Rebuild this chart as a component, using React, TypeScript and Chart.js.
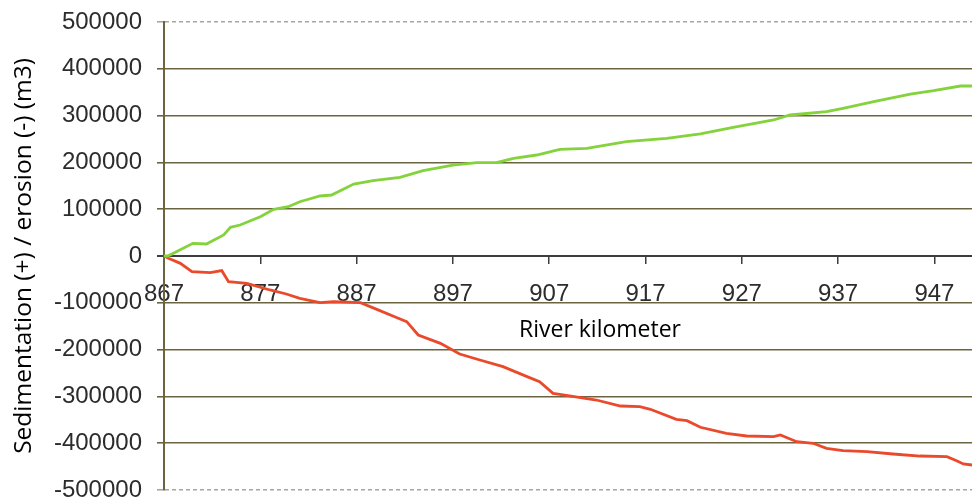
import React, { useEffect, useRef } from 'react';
import { Chart, registerables } from 'chart.js';

Chart.register(...registerables);

// River kilometre tick positions along the zero line
const X_TICKS = [867, 877, 887, 897, 907, 917, 927, 937, 947];
const X_MIN = 867;
const X_MAX = 950.9;

// Volume axis ticks (m3)
const Y_TICKS = [-500000, -400000, -300000, -200000, -100000, 0, 100000, 200000, 300000, 400000, 500000];

// Cumulative sedimentation (+)
const SED_KM = [867, 867.4, 870.0, 871.4, 873.2, 873.9, 874.9, 877.0, 878.4, 879.9, 881.1, 883.2, 884.4, 886.7, 888.7, 891.5, 893.9, 897.0, 899.5, 901.5, 903.3, 905.7, 908.1, 910.9, 915.0, 919.2, 922.7, 926.1, 930.3, 932.0, 935.8, 937.5, 940.7, 944.5, 946.9, 949.7, 950.9];
const SED_M3 = [0, 0, 27100, 25600, 44900, 61300, 66200, 84000, 99700, 105300, 116000, 128200, 130300, 153800, 160900, 168100, 182300, 194400, 199400, 199400, 208700, 215800, 228000, 230100, 244200, 251500, 260700, 275000, 290600, 301300, 308300, 315500, 329700, 346100, 353200, 363200, 363200];

// Cumulative erosion (-)
const ERO_KM = [867, 867.4, 868.7, 869.9, 871.8, 873.0, 873.7, 875.6, 878.0, 879.7, 881.1, 883.2, 884.6, 887.4, 889.1, 891.2, 892.2, 893.4, 895.7, 897.7, 899.8, 902.2, 904.7, 906.0, 907.4, 908.1, 911.9, 914.4, 916.4, 917.5, 920.2, 921.3, 922.7, 925.4, 927.5, 930.3, 931.0, 932.7, 934.4, 935.8, 937.5, 940.0, 942.7, 945.5, 948.3, 949.3, 950.0, 950.9];
const ERO_M3 = [0, -4300, -15700, -33500, -35600, -31300, -54800, -58400, -72600, -81200, -90400, -99700, -97600, -99700, -114000, -131800, -140300, -168800, -186600, -209400, -222200, -236500, -257800, -268500, -293400, -295600, -307700, -320500, -322000, -327600, -349000, -351900, -366000, -378900, -384600, -386100, -382500, -396800, -400200, -410900, -416000, -418200, -423100, -427400, -428800, -437400, -444400, -446600];

const X_TITLE = 'River kilometer';
const Y_TITLE = 'Sedimentation (+) / erosion (-) (m3)';

const GRID = '#6a6440';
const ZERO = '#3d3d3d';
const EDGE = '#aaa69a';
const TICK_TEXT = '#2c2c2c';

const xTitlePlugin = {
  id: 'xTitleInside',
  afterDraw(chart: any) {
    const { ctx, scales } = chart;
    const y0 = scales.y.getPixelForValue(0);
    ctx.save();
    ctx.font = '23px "Open Sans"';
    ctx.fillStyle = '#000';
    ctx.textAlign = 'center';
    ctx.textBaseline = 'middle';
    ctx.fillText(X_TITLE, 600, y0 + 74);
    ctx.restore();
  },
};

export default function App() {
  const ref = useRef<HTMLCanvasElement | null>(null);

  useEffect(() => {
    document.body.style.margin = '0';
    const canvas = ref.current;
    if (!canvas) return;

    const chart = new Chart(canvas, {
      type: 'line',
      data: {
        datasets: [
          {
            label: 'Sedimentation',
            data: SED_KM.map((k, i) => ({ x: k, y: SED_M3[i] })),
            borderColor: '#84d23c',
            borderWidth: 2.8,
            pointRadius: 0,
            tension: 0,
          },
          {
            label: 'Erosion',
            data: ERO_KM.map((k, i) => ({ x: k, y: ERO_M3[i] })),
            borderColor: '#ea4a2b',
            borderWidth: 2.8,
            pointRadius: 0,
            tension: 0,
          },
        ],
      },
      options: {
        animation: false,
        responsive: false,
        maintainAspectRatio: false,
        layout: { padding: { top: 22, bottom: 11, left: 0, right: 0 } },
        plugins: {
          legend: { display: false },
          tooltip: { enabled: false },
        },
        scales: {
          x: {
            type: 'linear',
            min: X_MIN,
            max: X_MAX,
            position: { y: 0 },
            afterFit: (scale: any) => {
              scale.height = 0;
            },
            afterBuildTicks: (scale: any) => {
              scale.ticks = X_TICKS.map((v) => ({ value: v }));
            },
            grid: {
              drawOnChartArea: false,
              drawTicks: true,
              tickLength: 7,
              color: ZERO,
              lineWidth: 1.5,
            },
            border: { display: true, color: ZERO, width: 2 },
            ticks: {
              autoSkip: false,
              maxRotation: 0,
              padding: 17,
              color: TICK_TEXT,
              font: { family: '"Liberation Sans", Arial, sans-serif', size: 24 },
              callback: (v: any) => String(v),
            },
          },
          y: {
            type: 'linear',
            min: -500000,
            max: 500000,
            afterFit: (scale: any) => {
              scale.width = 164;
              scale.paddingTop = 0;
              scale.paddingBottom = 0;
            },
            afterBuildTicks: (scale: any) => {
              scale.ticks = Y_TICKS.map((v) => ({ value: v }));
            },
            grid: {
              drawTicks: true,
              tickLength: 7,
              lineWidth: (c: any) => (c.tick && c.tick.value === 0 ? 2 : 1.6),
              color: (c: any) => {
                const v = c.tick ? c.tick.value : null;
                if (v === 0) return ZERO;
                if (v === 500000 || v === -500000) return EDGE;
                return GRID;
              },
            },
            border: {
              display: true,
              color: GRID,
              width: 2,
              dash: (c: any) =>
                c.tick && Math.abs(c.tick.value) === 500000 ? [4, 3] : [],
            },
            ticks: {
              autoSkip: false,
              padding: 15,
              color: TICK_TEXT,
              font: { family: '"Liberation Sans", Arial, sans-serif', size: 24 },
              callback: (v: any) => String(v),
            },
            title: {
              display: true,
              text: Y_TITLE,
              color: '#000',
              padding: { top: 9, bottom: 0 },
              font: { family: '"Open Sans", sans-serif', size: 24.5 },
            },
          },
        },
      },
      plugins: [xTitlePlugin],
    });

    return () => chart.destroy();
  }, []);

  return (
    <div style={{ position: 'absolute', left: 0, top: 0, width: 972, height: 501, background: '#fff' }}>
      <canvas ref={ref} width={972} height={501} style={{ display: 'block' }} />
    </div>
  );
}
